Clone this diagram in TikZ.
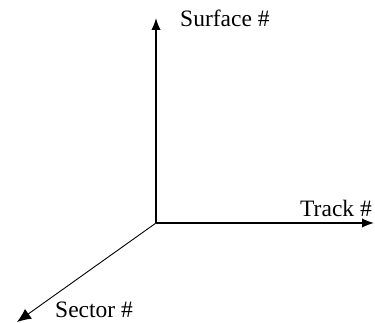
\documentclass[tikz,border=0pt]{standalone}
\usepackage{fontspec}
\setmainfont{Liberation Serif}
\usetikzlibrary{arrows.meta,positioning}
\tikzset{mainaxis/.style={line width=1.6pt,-{Latex[length=12pt,width=9.5pt]}}, sideaxis/.style={line width=.9pt,-{Latex[length=14pt,width=12pt]}}, axislabel/.style={font=\fontsize{23.5}{27}\selectfont,inner sep=0pt}}

\begin{document}
\begin{tikzpicture}[x=1pt,y=1pt]
\useasboundingbox (0,0) rectangle (375,323);
\coordinate (O) at (156,100);
\coordinate (surf) at (156,305);
\coordinate (track) at (374,100);
\coordinate (sect) at (17,1);
\draw[mainaxis] (O)--(surf);
\draw[mainaxis] (O)--(track);
\draw[sideaxis] (O)--(sect);
\node[axislabel,anchor=base west] (surflabel) at (180,296) {Surface \#};
\node[axislabel,anchor=base east] (tracklabel) at (372,106) {Track \#};
\node[axislabel,anchor=base west] (sectlabel) at (55,5) {Sector \#};
\end{tikzpicture}
\end{document}
